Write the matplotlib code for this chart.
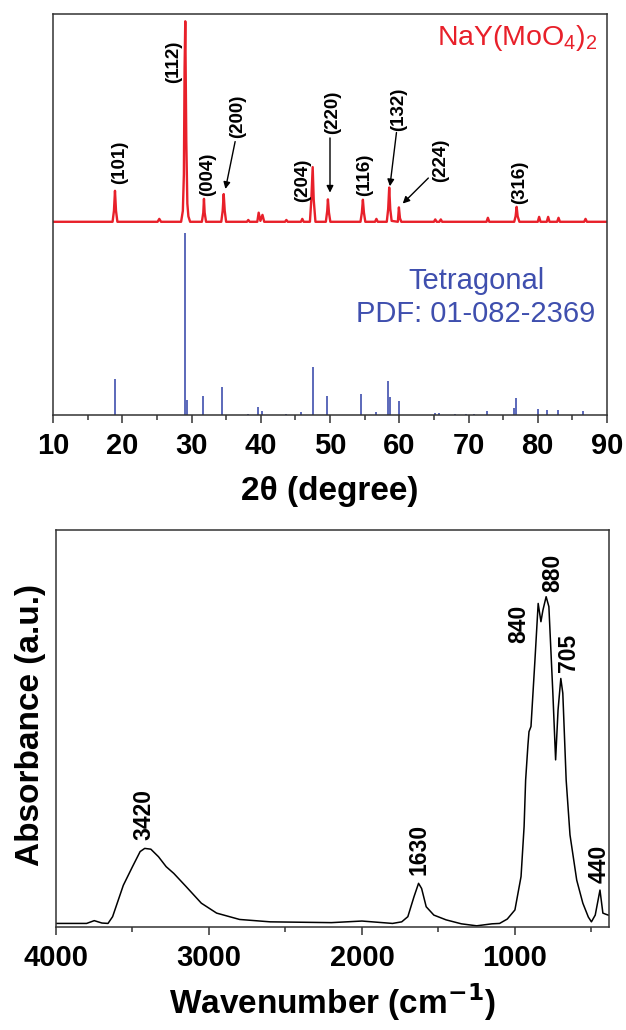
import matplotlib
matplotlib.use("Agg")
import matplotlib.pyplot as plt

plt.rcParams['font.family'] = ['Liberation Sans', 'DejaVu Sans']
plt.rcParams['mathtext.default'] = 'regular'

# ---------------- XRD data ----------------
xrd_2theta = [10, 18.6, 18.8, 18.95, 19.1, 19.3, 25.1, 25.35, 25.6,
              28.5, 28.75, 28.9, 29.0, 29.1, 29.25, 29.4, 29.55, 29.8,
              31.5, 31.7, 31.8, 31.9, 32.1, 34.3, 34.5, 34.65, 34.8, 35.0,
              38.0, 38.2, 38.4, 39.5, 39.7, 39.95, 40.25, 40.5,
              43.5, 43.7, 43.9, 45.8, 46.0, 46.2, 47.1, 47.3, 47.5, 47.65, 47.9,
              49.4, 49.6, 49.7, 49.85, 50.05, 54.4, 54.6, 54.75, 54.9, 55.1,
              56.5, 56.7, 56.9, 58.2, 58.4, 58.55, 58.7, 58.9, 59.8, 59.95, 60.1, 60.3,
              65.0, 65.2, 65.4, 65.8, 66.0, 66.2, 72.6, 72.8, 73.0,
              76.6, 76.8, 76.95, 77.1, 77.35, 80.0, 80.2, 80.4, 81.3, 81.5, 81.7,
              82.8, 83.0, 83.2, 86.7, 86.9, 87.1, 90]
xrd_intensity = [106, 106, 112, 123, 112, 106, 106, 107.6, 106,
                 106, 112, 132, 190, 216, 150, 116, 109, 106,
                 106, 111, 118.6, 111, 106, 106, 112, 121.2, 112, 106,
                 106, 107, 106, 106, 111, 106.5, 109.8, 106,
                 106, 107, 106, 106, 107.6, 106, 106, 118, 136, 118, 106,
                 106, 112, 118.3, 111, 106, 106, 111, 118.1, 111, 106,
                 106, 107.6, 106, 106, 113, 124.8, 113, 106.5, 106, 113.9, 108, 106,
                 106, 107.3, 106, 106, 107.3, 106, 106, 108.2, 106,
                 106, 109, 114.2, 109, 106, 106, 108.7, 106, 106, 108.7, 106,
                 106, 108.2, 106, 106, 107.6, 106, 106]

stick_2theta = [18.92, 29.1, 29.33, 31.7, 34.46, 38.1, 39.6, 40.2, 43.7, 45.8,
                47.5, 49.5, 54.5, 56.7, 58.4, 58.6, 59.9, 65.1, 65.8, 68.0,
                69.7, 70.8, 72.7, 76.5, 76.8, 80.0, 81.4, 82.9, 86.6]
stick_int = [19.6, 100, 8.2, 10.4, 15.2, 0.5, 4.2, 2.4, 0.3, 1.5,
             26.5, 10.4, 11.7, 1.5, 18.5, 10.0, 7.5, 0.9, 0.9, 0.4,
             0.5, 0.5, 2.2, 4.0, 9.3, 3.3, 2.7, 2.9, 2.2]

hkl_labels = ['(101)', '(112)', '(004)', '(200)', '(204)', '(220)', '(116)',
              '(132)', '(224)', '(316)']
hkl_text_x = [19.55, 27.4, 32.3, 36.6, 46.1, 50.35, 54.95, 59.95, 66.0, 77.4]
hkl_text_y = [127, 182, 120, 152, 117, 154, 120, 156, 128, 116]
arrow_tail_x = [36.3, 50.0, 59.6, 64.2]
arrow_tail_y = [150, 152, 155, 130]
arrow_head_x = [34.9, 50.0, 58.65, 60.5]
arrow_head_y = [124, 122, 125.5, 116]

# ---------------- FTIR data ----------------
ir_wavenumber = [4000, 3800, 3750, 3700, 3660, 3630, 3560, 3500, 3450, 3420, 3380,
                 3330, 3280, 3230, 3150, 3050, 2950, 2800, 2600, 2400, 2200,
                 2000, 1900, 1800, 1740, 1700, 1660, 1630, 1610, 1580, 1530,
                 1450, 1350, 1250, 1150, 1100, 1050, 1000, 960, 940, 930, 915,
                 908, 895, 869, 848, 830, 817, 796, 778, 752, 734, 718, 700,
                 687, 665, 640, 596, 556, 520, 500, 475, 444, 425, 405, 390]
ir_absorb = [0.009, 0.009, 0.016, 0.010, 0.009, 0.026, 0.105, 0.152, 0.190, 0.198, 0.196,
             0.177, 0.152, 0.135, 0.102, 0.060, 0.035, 0.019, 0.013, 0.012, 0.011,
             0.015, 0.012, 0.009, 0.013, 0.026, 0.076, 0.110, 0.097, 0.051, 0.030,
             0.018, 0.008, 0.003, 0.008, 0.009, 0.020, 0.043, 0.127, 0.253, 0.370, 0.458,
             0.492, 0.505, 0.673, 0.815, 0.769, 0.798, 0.832, 0.807, 0.589, 0.421, 0.547, 0.626,
             0.589, 0.370, 0.232, 0.118, 0.060, 0.025, 0.013, 0.030, 0.093, 0.035, 0.032, 0.030]

ir_labels = ['3420', '1630', '440', '840', '880', '705']
ir_text_x = [3426, 1626, 452, 974, 752, 648]
ir_text_y = [0.219, 0.131, 0.111, 0.715, 0.844, 0.642]

RED = '#E8202A'
BLUE = '#3F4FAE'
FRAME = '#333333'

fig = plt.figure(figsize=(6.26, 10.30), dpi=100)

# ---------- top panel ----------
ax1 = fig.add_axes([53/626, 1 - 415/1030, (607-53)/626, (415-14)/1030])
ax1.plot(xrd_2theta, xrd_intensity, color=RED, lw=1.7)
ax1.vlines(stick_2theta, 0, stick_int, color=BLUE, lw=1.2)
ax1.set_xlim(10, 90)
ax1.set_ylim(0, 220)
ax1.set_yticks([])
ax1.set_xticks(range(10, 91, 10))
ax1.set_xticks(range(15, 90, 10), minor=True)

for lab, tx, ty in zip(hkl_labels, hkl_text_x, hkl_text_y):
    ax1.text(tx, ty, lab, rotation=90, ha='center', va='bottom',
             fontsize=13.5, fontweight='bold', color='black')
for tx, ty, hx, hy in zip(arrow_tail_x, arrow_tail_y, arrow_head_x, arrow_head_y):
    ax1.annotate('', xy=(hx, hy), xytext=(tx, ty),
                 arrowprops=dict(arrowstyle='-|>', color='black', lw=1.0,
                                 mutation_scale=10, shrinkA=0, shrinkB=0))

ax1.text(88.7, 203, r'NaY(MoO$_4$)$_2$', color=RED, fontsize=20.5,
         ha='right', va='baseline')
ax1.text(71.1, 64.5, 'Tetragonal\nPDF: 01-082-2369', color=BLUE, fontsize=21,
         ha='center', va='center', multialignment='center', linespacing=1.25)

ax1.set_xlabel('2θ (degree)', fontsize=24, fontweight='bold')
ax1.xaxis.set_label_coords(0.5, -0.192)
ax1.xaxis.label.set_va('center')

# ---------- bottom panel ----------
ax2 = fig.add_axes([56/626, 1 - 927/1030, (609-56)/626, (927-530)/1030])
ax2.plot(ir_wavenumber, ir_absorb, color='black', lw=1.1)
ax2.set_xlim(4000, 385)
ax2.set_ylim(0, 1)
ax2.set_yticks([])
ax2.set_xticks([4000, 3000, 2000, 1000])
ax2.set_xticks([3500, 2500, 1500, 500], minor=True)

for lab, tx, ty in zip(ir_labels, ir_text_x, ir_text_y):
    ax2.text(tx, ty, lab, rotation=90, ha='center', va='bottom',
             fontsize=16.5, fontweight='bold', color='black')

ax2.set_xlabel(r'Wavenumber (cm$^{\mathbf{-1}}$)', fontsize=24, fontweight='bold')
ax2.xaxis.set_label_coords(0.5, -0.191)
ax2.xaxis.label.set_va('center')
ax2.set_ylabel('Absorbance (a.u.)', fontsize=24, fontweight='bold')
ax2.yaxis.set_label_coords(-0.047, 0.509)
ax2.yaxis.label.set_va('center')

for ax in (ax1, ax2):
    for s in ax.spines.values():
        s.set_linewidth(1.1)
        s.set_color(FRAME)
    ax.tick_params(axis='x', which='major', direction='out', length=6, width=1.1,
                   pad=6, labelsize=21, color=FRAME)
    ax.tick_params(axis='x', which='minor', direction='out', length=3.5, width=1.1,
                   color=FRAME)
    for t in ax.get_xticklabels():
        t.set_fontweight('bold')

fig.savefig('out.png', dpi=100)
